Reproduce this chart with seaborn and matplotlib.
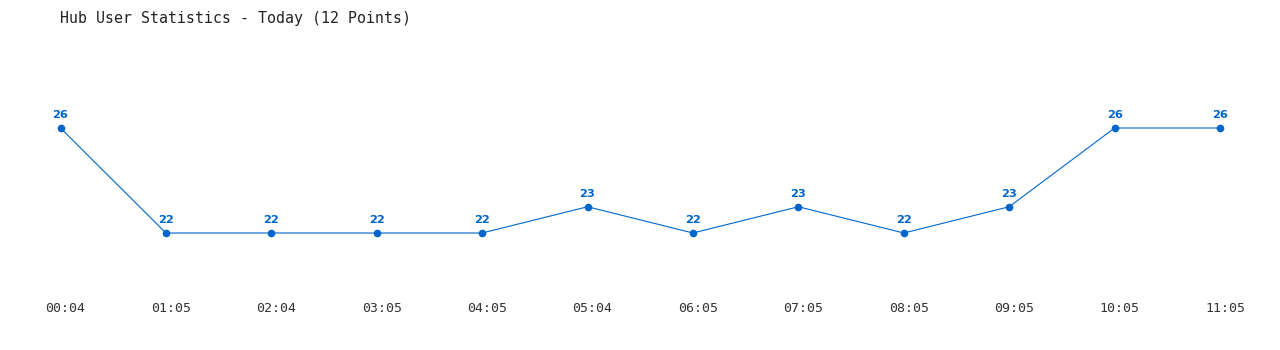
import matplotlib
matplotlib.use("Agg")
import matplotlib.pyplot as plt
import matplotlib.transforms as mtransforms
import seaborn as sns
import pandas as pd

times = ["00:04", "01:05", "02:04", "03:05", "04:05", "05:04", "06:05",
         "07:05", "08:05", "09:05", "10:05", "11:05"]
users = [26, 22, 22, 22, 22, 23, 22, 23, 22, 23, 26, 26]
title = "Hub User Statistics - Today (12 Points)"

sns.set_theme(style="white")
plt.rcParams['font.family'] = ['DejaVu Sans Mono', 'DejaVu Sans']

W, H = 1280, 350
fig = plt.figure(figsize=(12.8, 3.5), dpi=100)
ax = fig.add_axes([0, 60 / H, 1, (H - 40 - 60) / H])

df = pd.DataFrame({"idx": range(len(times)), "users": users})
color = "#0066CC"
sns.lineplot(data=df, x="idx", y="users", ax=ax, color=color, linewidth=0.8,
             marker="o", markersize=5.5, markeredgewidth=0, markerfacecolor=color)

px = 105.41
ax.set_xlim(-60.5 / px, (W - 60.5) / px)
ax.set_ylim(22 - (117 - 60) / 26.25, 22 + (233 - 40) / 26.25)

for i, v in enumerate(users):
    ax.annotate(str(v), (i, v), xytext=(0, 9.5), textcoords="offset points",
                ha="center", va="center", fontsize=8.2, fontweight="bold",
                color=color, family="DejaVu Sans")

# time labels below the axis, shifted slightly right of each point
trans = mtransforms.blended_transform_factory(ax.transData, ax.transAxes)
shift = mtransforms.ScaledTranslation(5 / 100, -18 / 100, fig.dpi_scale_trans)
for i, t in enumerate(times):
    ax.text(i, 0, t, transform=trans + shift, ha="center", va="center",
            fontsize=9.5, color="#333333")

ax.set_xticks([])
ax.set_yticks([])
ax.set_xlabel("")
ax.set_ylabel("")
for s in ax.spines.values():
    s.set_visible(False)

fig.text(60 / W, 1 - 18 / H, title, ha="left", va="center", fontsize=10.75,
         color="#222222")

fig.savefig("out.png", dpi=100, facecolor="white")
